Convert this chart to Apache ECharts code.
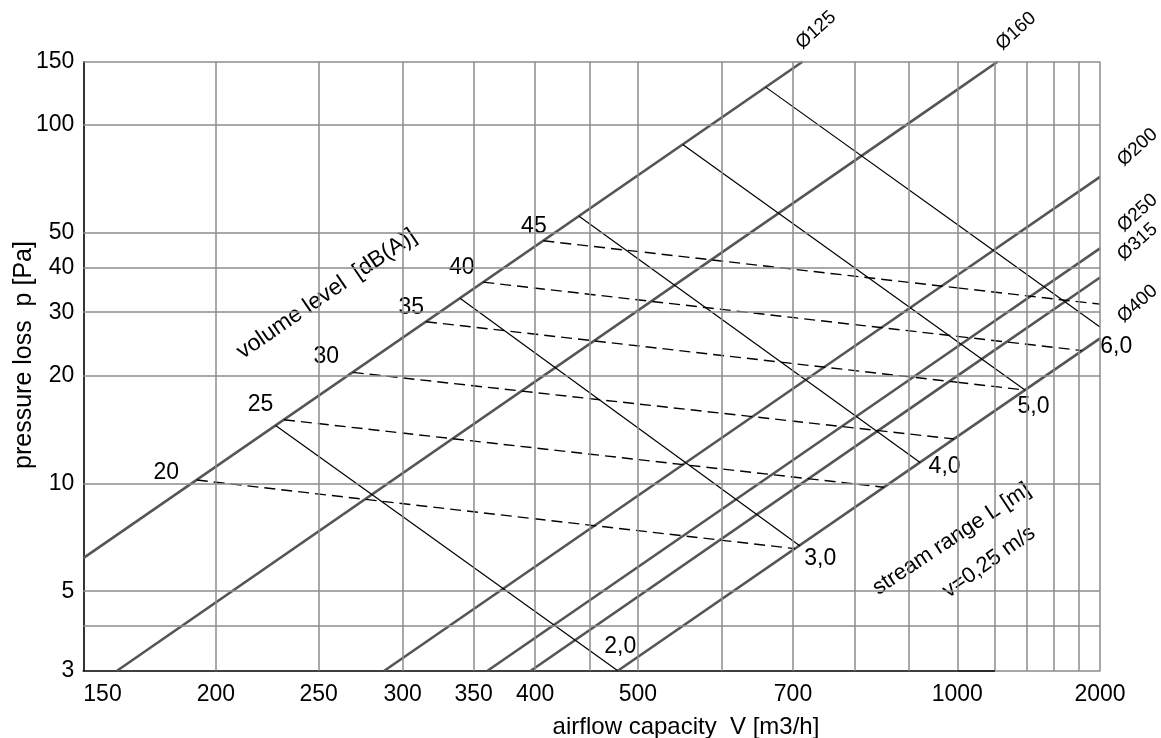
<!DOCTYPE html>
<html><head><meta charset="utf-8">
<script src="https://cdn.jsdelivr.net/npm/echarts@6/dist/echarts.min.js"></script>
<style>html,body{margin:0;padding:0;background:#fff}#c{width:1161px;height:738px}</style>
</head><body><div id="c"></div>
<script>
// ---------- axis ticks / grid lines ----------
const xTickLabelsLeft = [150, 200, 250, 300, 350, 400, 500, 700, 1000];
const xTickLabelsRight = [2000];
const xGridLeft = [200, 250, 300, 350, 400, 450, 500, 600, 700, 800, 900, 1000];
const xGridRight = [1200, 1400, 1600, 1800, 2000];
const yTickLabels = [3, 5, 10, 20, 30, 40, 50, 100, 150];
const yGridLines = [4, 5, 10, 20, 30, 40, 50, 100, 150];

// ---------- duct diameter lines  [V m3/h, p Pa] ----------
const diameterNames = ['Ø125', 'Ø160', 'Ø200', 'Ø250', 'Ø315', 'Ø400'];
const dia125 = [[150, 6.18], [714.6, 150]];
const dia160 = [[161.4, 3], [1000, 125.4], [1215.6, 150]];
const dia200 = [[288.3, 3], [1000, 38.06], [2000, 71.6]];
const dia250 = [[360.7, 3], [1000, 24.04], [2000, 45.2]];
const dia315 = [[396.2, 3], [1000, 19.93], [2000, 37.5]];
const dia400 = [[478.6, 3], [1000, 13.49], [2000, 25.37]];

// ---------- stream range L [m] lines ----------
const rangeNames = ['2,0', '3,0', '4,0', '5,0', '6,0'];
const range20 = [[227.7, 14.49], [478.6, 3]];
const range30 = [[339.8, 32.82], [710.8, 6.68]];
const range40 = [[440.0, 55.6], [922.4, 11.43]];
const range50 = [[551.0, 88.1], [1000, 24.86], [1389, 18.2]];
const range60 = [[659.7, 127.4], [1000, 52.7], [2000, 27.3]];

// ---------- volume level dB(A) lines ----------
const levelNames = ['20', '25', '30', '35', '40', '45'];
const level20 = [[191.9, 10.21], [703.2, 6.57]];
const level25 = [[231.9, 15.04], [852.8, 9.75]];
const level30 = [[269.2, 20.39], [992.9, 13.29]];
const level35 = [[315.6, 28.23], [1000, 19.13], [1389, 18.2]];
const level40 = [[357.4, 36.4], [1000, 25.7], [1833, 23.45]];
const level45 = [[407.2, 47.48], [1000, 35.09], [2000, 31.6]];

// ---------- styling ----------
const FONT = '"Liberation Sans", Arial, sans-serif';
const GRID_COLOR = '#8c8c8c';
const DIA_COLOR = '#555555';
const diaLabelOffsets = [[14, -31], [19, -30], [38, -29], [38, -35], [38, -35], [38, -34]];
const rangeLabelOffsets = [[3, -24], [20.7, 13], [25, 5], [9, 16.7], [16.7, 20]];
const levelLabelOffsets = [[-30, -6.7], [-23, -14.7], [-26, -15.6], [-14.3, -13.4], [-21, -14.4], [-9, -13.4]];

function segment(points, side) {
  return side === 0 ? points.filter(p => p[0] <= 1000) : points.filter(p => p[0] >= 1000);
}

function buildLine(points, lineStyle, label, z) {
  const out = [];
  [0, 1].forEach(side => {
    const s = segment(points, side);
    if (s.length < 2) return;
    const target = label.at === 'start' ? points[0] : points[points.length - 1];
    const data = s.map(p => {
      const item = { value: p };
      if (p === target) {
        item.label = {
          show: true, formatter: label.text, position: label.offset,
          align: 'center', verticalAlign: 'middle', color: '#000',
          fontFamily: FONT, fontSize: label.size, rotate: label.rotate || 0
        };
      }
      return item;
    });
    out.push({
      type: 'line', xAxisIndex: side, yAxisIndex: side, data,
      symbol: 'circle', symbolSize: 1, showSymbol: true, clip: false,
      itemStyle: { color: 'rgba(0,0,0,0)', borderWidth: 0 },
      lineStyle, label: { show: false }, silent: true, z,
      emphasis: { disabled: true }
    });
  });
  return out;
}

const series = [];

// grid lines as markLines
function gridSeries(side, xs) {
  const data = xs.map(v => ({ xAxis: v })).concat(yGridLines.map(v => ({ yAxis: v })));
  if (side === 1) {
    data.push([{ coord: [1000, 3], lineStyle: { color: '#000', width: 1.6 } }, { coord: [1200, 3] }]);
  }
  return {
    type: 'line', xAxisIndex: side, yAxisIndex: side, data: [], silent: true, z: 1,
    markLine: {
      silent: true, symbol: ['none', 'none'], label: { show: false },
      lineStyle: { color: GRID_COLOR, width: 1.5, type: 'solid' },
      emphasis: { disabled: true }, animation: false, data
    }
  };
}
series.push(gridSeries(0, xGridLeft));
series.push(gridSeries(1, xGridRight));

[dia125, dia160, dia200, dia250, dia315, dia400].forEach((pts, i) => {
  series.push(...buildLine(pts, { color: DIA_COLOR, width: 2.6 },
    { at: 'end', text: diameterNames[i], offset: diaLabelOffsets[i], size: 19, rotate: 42 }, 3));
});
[range20, range30, range40, range50, range60].forEach((pts, i) => {
  series.push(...buildLine(pts, { color: '#000', width: 1.2 },
    { at: 'end', text: rangeNames[i], offset: rangeLabelOffsets[i], size: 23 }, 4));
});
[level20, level25, level30, level35, level40, level45].forEach((pts, i) => {
  series.push(...buildLine(pts, { color: '#000', width: 1.4, type: [11, 6] },
    { at: 'start', text: levelNames[i], offset: levelLabelOffsets[i], size: 23 }, 4));
});

const plainNumber = v => String(Math.round(v));
const axisLabelBase = { color: '#000', fontFamily: FONT, fontSize: 23, formatter: plainNumber };

const option = {
  animation: false,
  backgroundColor: '#fff',
  grid: [
    { left: 83.3, top: 61.7, width: 874, height: 609, containLabel: false, outerBoundsMode: 'none' },
    { left: 957.3, top: 61.7, width: 142.7, height: 609, containLabel: false, outerBoundsMode: 'none' }
  ],
  xAxis: [
    {
      type: 'log', logBase: 10, gridIndex: 0, min: 150, max: 1000,
      axisLine: { show: true, onZero: false, lineStyle: { color: '#000', width: 1.6 } },
      axisTick: { show: false }, splitLine: { show: false }, minorTick: { show: false }, minorSplitLine: { show: false },
      axisLabel: Object.assign({ customValues: xTickLabelsLeft, margin: 12, alignMinLabel: 'left' }, axisLabelBase)
    },
    {
      type: 'log', logBase: 10, gridIndex: 1, min: 1000, max: 2000,
      axisLine: { show: true, onZero: false, lineStyle: { color: GRID_COLOR, width: 1.5 } },
      axisTick: { show: false }, splitLine: { show: false }, minorTick: { show: false }, minorSplitLine: { show: false },
      axisLabel: Object.assign({ customValues: xTickLabelsRight, margin: 12 }, axisLabelBase)
    }
  ],
  yAxis: [
    {
      type: 'log', logBase: 10, gridIndex: 0, min: 3, max: 150,
      axisLine: { show: true, onZero: false, lineStyle: { color: '#000', width: 1.6 } },
      axisTick: { show: false }, splitLine: { show: false }, minorTick: { show: false }, minorSplitLine: { show: false },
      axisLabel: Object.assign({ customValues: yTickLabels, margin: 9 }, axisLabelBase)
    },
    {
      type: 'log', logBase: 10, gridIndex: 1, min: 3, max: 150, show: false,
      axisLine: { show: false }, axisTick: { show: false }, splitLine: { show: false }, axisLabel: { show: false }
    }
  ],
  graphic: [
    { type: 'text', x: 24, y: 355, rotation: Math.PI / 2,
      style: { text: 'pressure loss  p [Pa]', font: '25px ' + FONT, fill: '#000', align: 'center', verticalAlign: 'middle' } },
    { type: 'text', x: 686, y: 727,
      style: { text: 'airflow capacity  V [m3/h]', font: '24px ' + FONT, fill: '#000', align: 'center', verticalAlign: 'middle' } },
    { type: 'text', x: 326.7, y: 294, rotation: 34.4 * Math.PI / 180,
      style: { text: 'volume level  [dB(A)]', font: '23px ' + FONT, fill: '#000', align: 'center', verticalAlign: 'middle' } },
    { type: 'text', x: 951.7, y: 539, rotation: 33.6 * Math.PI / 180,
      style: { text: 'stream range L [m]', font: '22px ' + FONT, fill: '#000', align: 'center', verticalAlign: 'middle' } },
    { type: 'text', x: 989, y: 562, rotation: 35.5 * Math.PI / 180,
      style: { text: 'v=0,25 m/s', font: '22px ' + FONT, fill: '#000', align: 'center', verticalAlign: 'middle' } }
  ],
  series
};

const chart = echarts.init(document.getElementById('c'), null, { renderer: 'canvas' });
chart.setOption(option);
</script>
</body></html>
